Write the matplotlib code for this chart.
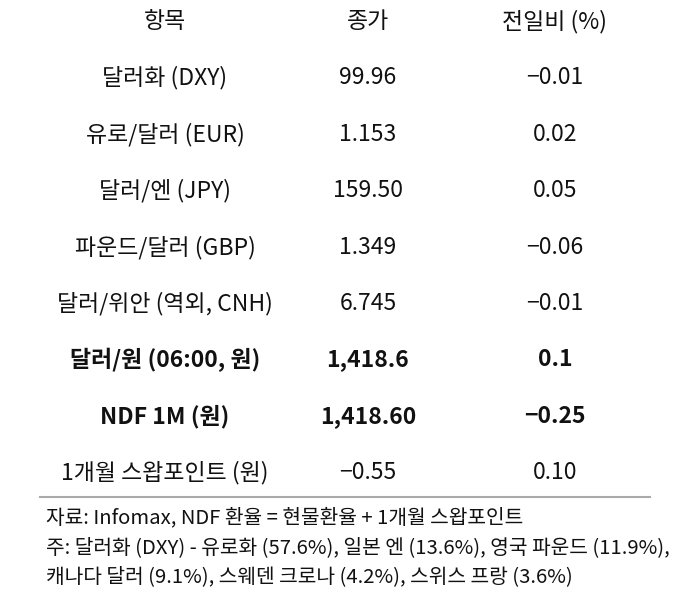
import matplotlib
matplotlib.use("Agg")
import matplotlib.pyplot as plt

plt.rcParams['font.family'] = ['Noto Sans CJK KR', 'DejaVu Sans']

headers = ["항목", "종가", "전일비 (%)"]
items = ["달러화 (DXY)", "유로/달러 (EUR)", "달러/엔 (JPY)", "파운드/달러 (GBP)",
         "달러/위안 (역외, CNH)", "달러/원 (06:00, 원)", "NDF 1M (원)", "1개월 스왑포인트 (원)"]
closes = ["99.96", "1.153", "159.50", "1.349", "6.745", "1,418.6", "1,418.60", "\u22120.55"]
changes = ["\u22120.01", "0.02", "0.05", "\u22120.06", "\u22120.01", "0.1", "\u22120.25", "0.10"]
bold_rows = [5, 6]
notes = ["자료: Infomax, NDF 환율 = 현물환율 + 1개월 스왑포인트",
         "주: 달러화 (DXY) - 유로화 (57.6%), 일본 엔 (13.6%), 영국 파운드 (11.9%),",
         "캐나다 달러 (9.1%), 스웨덴 크로나 (4.2%), 스위스 프랑 (3.6%)"]

W, H = 693, 592
fig = plt.figure(figsize=(W/100, H/100), dpi=100)
ax = fig.add_axes([0, 0, 1, 1])
ax.set_xlim(0, W); ax.set_ylim(H, 0); ax.axis('off')

cols = [165, 368, 555]
fs = 16.5
for x, h in zip(cols, headers):
    ax.text(x, 22, h, ha='center', va='center', fontsize=fs, color='#111111')
for i in range(len(items)):
    y = 78 + i * 56.4
    w = 'bold' if i in bold_rows else 'normal'
    for x, t in zip(cols, [items[i], closes[i], changes[i]]):
        ax.text(x, y, t, ha='center', va='center', fontsize=fs, fontweight=w, color='#111111')
ax.plot([40, 650], [497, 497], color='#aaaaaa', lw=1.5)
for j, n in enumerate(notes):
    ax.text(46, 518 + j * 29.5, n, ha='left', va='center', fontsize=14.6, color='#111111')

fig.savefig("out.png", dpi=100)
